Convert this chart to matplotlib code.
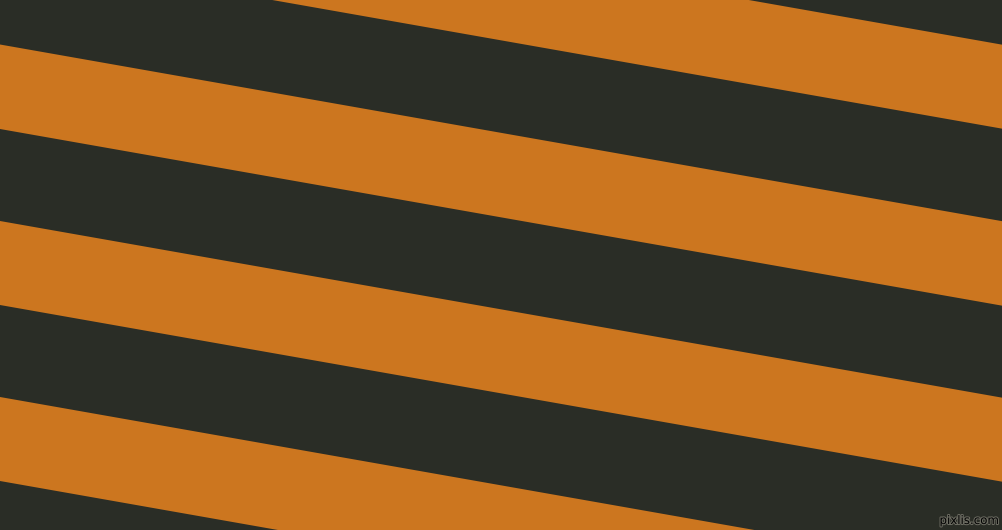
import numpy as np
import matplotlib.pyplot as plt
import matplotlib.patheffects as pe

# picture size in pixels
ancho, alto = 1002, 530

# stripe boundaries: y where each edge meets the left border (x=0)
bordes_izq = [-132, -48, 44.5, 129, 221, 305, 397, 481, 573, 657]
pendiente = 0.1763  # ~10 degrees, falling to the right

color_oscuro = '#2a2d26'
color_naranja = '#cc761f'

marca = 'pixlis.com'

fig = plt.figure(figsize=(ancho / 100, alto / 100), dpi=100)
ax = fig.add_axes([0, 0, 1, 1])
ax.set_facecolor(color_oscuro)
ax.set_xlim(0, ancho)
ax.set_ylim(alto, 0)
ax.axis('off')
fig.patch.set_facecolor(color_oscuro)

xs = np.array([-5, ancho + 5])
# orange stripes lie between each pair of edges (start, end)
for arriba, abajo in zip(bordes_izq[0::2], bordes_izq[1::2]):
    y_arriba = arriba + pendiente * xs
    y_abajo = abajo + pendiente * xs
    ax.fill_between(xs, y_arriba, y_abajo, color=color_naranja, linewidth=0)

ax.text(ancho - 3, alto - 3, marca, fontsize=8.5, color='black',
        ha='right', va='bottom', family='DejaVu Sans',
        path_effects=[pe.withStroke(linewidth=1.5, foreground='#6a6a60')])

fig.savefig('out.png', dpi=100, facecolor=color_oscuro)
